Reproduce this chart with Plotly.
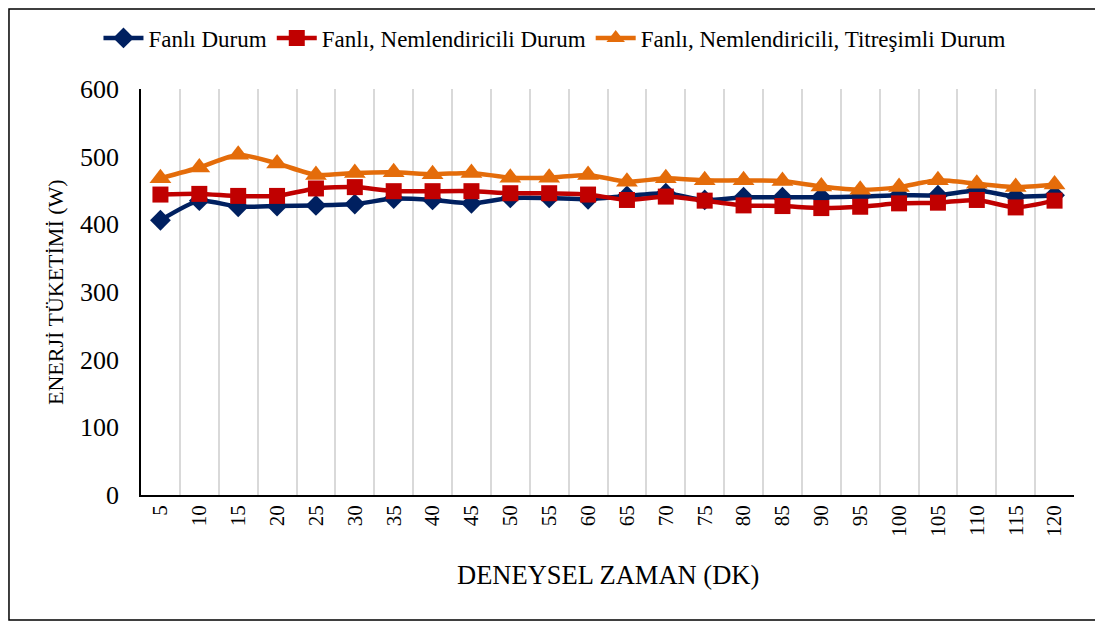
import plotly.graph_objects as go

categories = [str(v) for v in range(5, 121, 5)]
fanli = [406, 435, 426, 427, 428, 430, 438, 436, 431, 439, 439, 437, 442, 446, 436, 440, 440, 440, 441, 443, 443, 450, 441, 443]
nemli = [444, 445, 442, 442, 453, 455, 449, 449, 449, 446, 446, 444, 436, 441, 435, 428, 427, 424, 426, 431, 432, 436, 425, 435]
titresimli = [468, 484, 503, 490, 473, 476, 477, 474, 476, 469, 469, 473, 463, 468, 465, 465, 464, 456, 451, 455, 465, 460, 455, 459]

names = ["Fanlı Durum", "Fanlı, Nemlendiricili Durum", "Fanlı, Nemlendiricili, Titreşimli Durum"]
colors = ["#002060", "#C00000", "#E46C0A"]
symbols = ["diamond", "square", "triangle-up"]
sizes = [16, 16, 19]

fig = go.Figure()
for name, vals, c, s, sz in zip(names, [fanli, nemli, titresimli], colors, symbols, sizes):
    fig.add_trace(go.Scatter(
        x=categories, y=vals, name=name, mode="lines+markers",
        line=dict(color=c, width=4.5, shape="spline", smoothing=0.6),
        marker=dict(symbol=s, size=sz, color=c),
    ))

font = "Liberation Serif, Times New Roman, serif"
# the page body adds an 8px offset, so the figure is 8px smaller than the window
fig.update_layout(
    width=1095, height=617,
    margin=dict(l=133, r=29, t=81, b=130, autoexpand=False),
    paper_bgcolor="white", plot_bgcolor="white",
    font=dict(family=font, color="black"),
    showlegend=True,
    legend=dict(orientation="h", x=0.4437, xanchor="center", y=1.1256, yanchor="middle",
                font=dict(size=23, family=font), bgcolor="rgba(0,0,0,0)",
                itemwidth=40, tracegroupgap=0),
    xaxis=dict(
        type="category", range=[-0.5, 23.5], tickson="boundaries",
        showgrid=True, gridcolor="#D9D9D9", gridwidth=2,
        showline=True, linecolor="black", linewidth=1.5,
        ticks="outside", ticklen=9, tickcolor="rgba(0,0,0,0)", tickangle=-90,
        tickfont=dict(size=21, family=font),
    ),
    yaxis=dict(
        range=[0, 600], dtick=100, showgrid=False, zeroline=False,
        showline=True, linecolor="black", linewidth=1.5,
        ticks="outside", ticklen=15, tickcolor="rgba(0,0,0,0)",
        tickfont=dict(size=26, family=font),
    ),
    annotations=[
        dict(text="ENERJİ TÜKETİMİ (W)", xref="paper", yref="paper", x=-0.0922, y=0.5,
             xanchor="center", yanchor="middle", textangle=-90, showarrow=False,
             font=dict(size=22, family=font, color="black")),
        dict(text="DENEYSEL ZAMAN (DK)", xref="paper", yref="paper", x=0.5, y=-0.197,
             xanchor="center", yanchor="middle", showarrow=False,
             font=dict(size=26.5, family=font, color="black")),
    ],
    shapes=[dict(type="rect", xref="paper", yref="paper",
                 x0=-0.1415, x1=1.0236, y0=-0.3079, y1=1.197,
                 line=dict(color="black", width=1.5), fillcolor="rgba(0,0,0,0)")],
)

fig.write_html("out.html")
